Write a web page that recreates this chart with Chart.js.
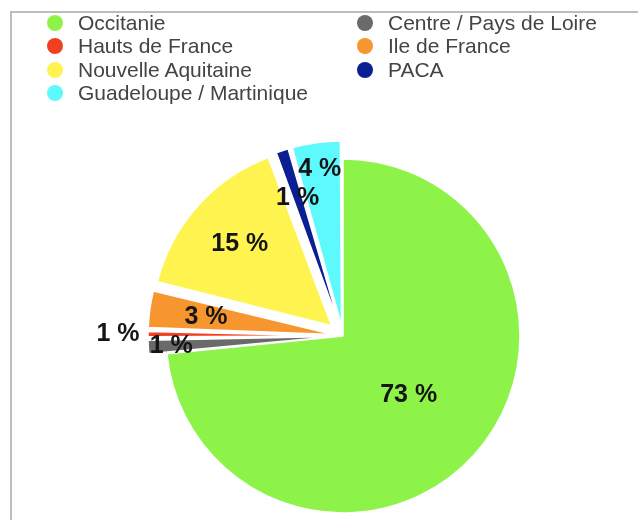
<!DOCTYPE html>
<html>
<head>
<meta charset="utf-8">
<script src="https://cdn.jsdelivr.net/npm/chart.js@4.4.1/dist/chart.umd.min.js"></script>
<style>
  html, body { margin: 0; padding: 0; background: #fff; }
  body { width: 638px; height: 520px; position: relative; overflow: hidden; font-family: "Liberation Sans", Arial, sans-serif; }
  #frame { position: absolute; left: 10px; top: 11px; width: 760px; height: 620px; border: 2px solid #bdbdbd; box-sizing: border-box; }
  #c { position: absolute; left: 0; top: 0; }
  #legend { position: absolute; left: 47px; top: 11px; display: grid; grid-template-columns: 310px 300px; grid-auto-rows: 23.5px; font-size: 21px; color: #444; }
  .item { display: flex; align-items: center; white-space: nowrap; }
  .dot { width: 16px; height: 16px; border-radius: 50%; margin-right: 15px; flex: none; }
</style>
</head>
<body>
<div id="frame"></div>
<canvas id="c" width="638" height="520"></canvas>
<div id="legend"></div>
<script>
// ---- data ----
const categories = ["Occitanie", "Centre / Pays de Loire", "Hauts de France", "Ile de France", "Nouvelle Aquitaine", "PACA", "Guadeloupe / Martinique"];
const shares = [73.4, 1.4, 0.7, 3.4, 15.4, 1.3, 4.4];
const colors = ["#8df349", "#6a6a6a", "#f1401f", "#f7952f", "#fff44f", "#0b1f95", "#5ef9fd"];

// ---- styles ----
const explodePx = 18;                              // distance exploded slices are pulled out
const labelRadius = [0.5, 0.87, 1.17, 0.68, 0.68, 0.72, 0.85];

// HTML legend (two columns, row-wise)
const legendEl = document.getElementById('legend');
categories.forEach((c, i) => {
  const it = document.createElement('div');
  it.className = 'item';
  const d = document.createElement('span');
  d.className = 'dot';
  d.style.background = colors[i];
  const t = document.createElement('span');
  t.textContent = c;
  it.appendChild(d); it.appendChild(t);
  legendEl.appendChild(it);
});

const total = shares.reduce((a, b) => a + b, 0);

function offsetFor(ctx) {
  const i = ctx.dataIndex;
  if (i === 0) return 0;
  const circ = shares[i] / total * Math.PI * 2;
  return 4 * explodePx / (2 - Math.sin(Math.min(Math.PI, circ)));
}

const pctLabels = {
  id: 'pctLabels',
  afterDatasetsDraw(chart) {
    const ctx = chart.ctx;
    const meta = chart.getDatasetMeta(0);
    ctx.save();
    ctx.font = 'bold 25px "Liberation Sans", Arial, sans-serif';
    ctx.fillStyle = '#151515';
    ctx.textAlign = 'center';
    ctx.textBaseline = 'middle';
    meta.data.forEach((arc, i) => {
      const p = arc.getProps(['x', 'y', 'startAngle', 'endAngle', 'outerRadius', 'circumference'], true);
      const mid = (p.startAngle + p.endAngle) / 2;
      const off = (arc.options.offset || 0) / 4;
      const fix = 1 - Math.sin(Math.min(Math.PI, p.circumference || 0));
      const tr = off + off * fix;
      const dist = tr + labelRadius[i] * p.outerRadius;
      const x = p.x + Math.cos(mid) * dist;
      const y = p.y + Math.sin(mid) * dist;
      const pct = Math.round(shares[i] / total * 100);
      ctx.fillText(pct + ' %', x, y);
    });
    ctx.restore();
  }
};

new Chart(document.getElementById('c'), {
  type: 'pie',
  data: {
    labels: categories,
    datasets: [{
      data: shares,
      backgroundColor: colors,
      borderColor: '#ffffff',
      borderWidth: 1.5,
      offset: offsetFor,
      hoverOffset: 0,
      radius: 177,
      clip: false
    }]
  },
  options: {
    responsive: false,
    animation: false,
    events: [],
    layout: { padding: { left: 48, right: 0, top: 152, bottom: 0 } },
    plugins: {
      legend: { display: false },
      tooltip: { enabled: false },
      title: { display: false }
    }
  },
  plugins: [pctLabels]
});
</script>
</body>
</html>
